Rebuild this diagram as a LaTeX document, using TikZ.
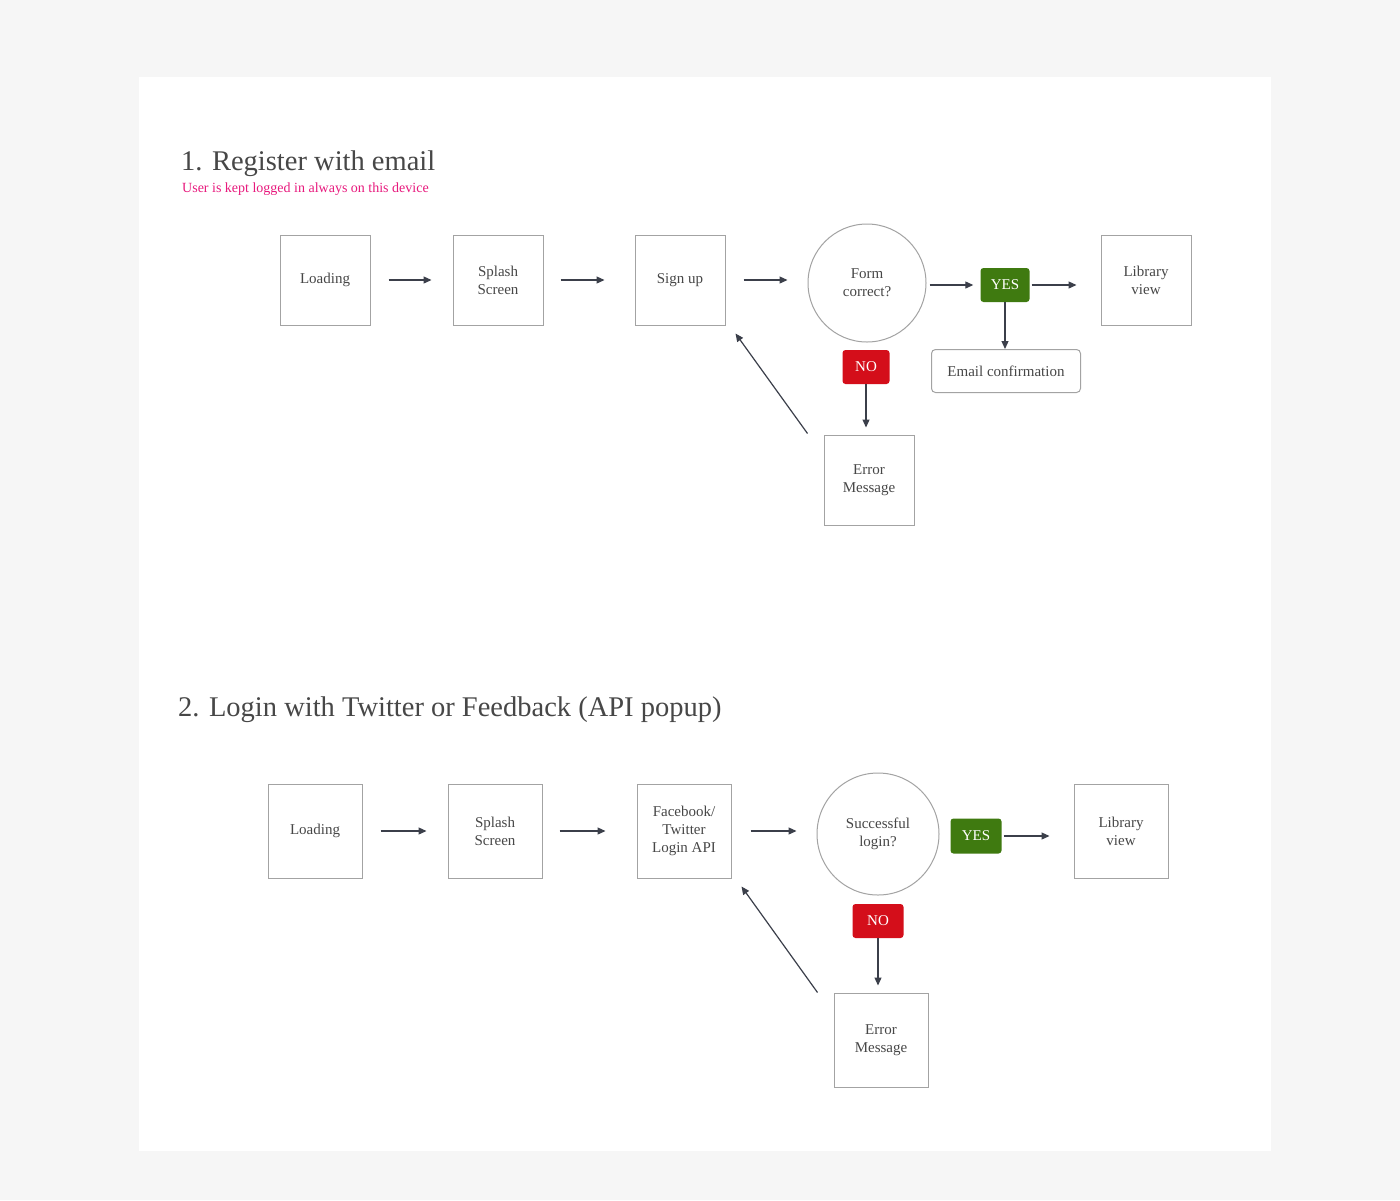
\documentclass[tikz,border=0pt]{standalone}
\usepackage{fontspec}
\setmainfont{Liberation Serif}
\usetikzlibrary{arrows.meta,positioning,shapes}
\definecolor{pagegray}{HTML}{F6F6F6}
\definecolor{boxgray}{HTML}{A3A3A3}
\definecolor{txtgray}{HTML}{474747}
\definecolor{arrowgray}{HTML}{3B3F4A}
\definecolor{yesgreen}{HTML}{3F7A10}
\definecolor{nored}{HTML}{D40E1A}
\definecolor{notepink}{HTML}{E8197D}

\begin{document}
\begin{tikzpicture}
    [
      x=1pt, y=-1pt,
      screen/.style={minimum size=90pt,inner sep=0pt,draw=boxgray,line width=1pt,fill=white,
        text=txtgray,align=center,font=\fontsize{15}{18}\selectfont},
      bigscreen/.style={screen,minimum size=94pt},
      decision/.style={circle,minimum size=118pt,inner sep=0pt,draw=boxgray,line width=1pt,
        text=txtgray,align=center,font=\fontsize{15}{18}\selectfont},
      tagyes/.style={minimum width=49pt,minimum height=34pt,inner sep=0pt,rounded corners=3pt,
        fill=yesgreen,text=white,font=\fontsize{15}{18}\selectfont},
      tagno/.style={tagyes,minimum width=47pt,fill=nored},
      mailbox/.style={minimum width=149pt,minimum height=43pt,inner sep=0pt,rounded corners=4pt,
        draw=boxgray,line width=1pt,text=txtgray,font=\fontsize{15}{18}\selectfont},
      heading/.style={anchor=base west,inner sep=0pt,text=txtgray,font=\fontsize{28.5}{32}\selectfont},
      post/.style={-{Triangle[length=8pt,width=7pt]},draw=arrowgray,line width=1.2pt}
    ]

    \useasboundingbox[fill=pagegray] (0,0) rectangle (1400,1200);
    \fill[white] (139,77) rectangle (1271,1151);

    % 1. register with email
    \node (title1) [heading] at (181,170) {1. Register with email};
    \node (note1) [anchor=base west,inner sep=0pt,text=notepink,font=\fontsize{14}{16}\selectfont]
      at (182,192) {User is kept logged in always on this device};

    \node (load1) [screen] at (325,280) {Loading};
    \node (splash1) [screen] at (498,280) {Splash\\Screen};
    \node (sign1) [screen] at (680,280) {Sign up};
    \node (form1) [decision] at (867,283) {Form\\correct?};
    \node (yes1) [tagyes] at (1005,285) {YES};
    \node (lib1) [screen] at (1146,280) {Library\\view};
    \node (mail1) [mailbox] at (1006,371) {Email confirmation};
    \node (no1) [tagno] at (866,367) {NO};
    \node (err1) [screen] at (869,480) {Error\\Message};

    \path
    (load1)   edge [post, shorten <=18pt, shorten >=21pt] (splash1)
    (splash1) edge [post, shorten <=17pt, shorten >=30pt] (sign1)
    (sign1)   edge [post, shorten <=18pt, shorten >=20pt] (sign1 -| form1.west)
    (form1.east |- yes1) edge [post, shorten <=3pt, shorten >=7pt] (yes1)
    (yes1)    edge [post, shorten <=2pt, shorten >=24pt] (yes1 -| lib1.west)
    (yes1)    edge [post] (yes1 |- mail1.north)
    (no1)     edge [post, shorten >=7pt] (no1 |- err1.north)
    ([xshift=-16pt,yshift=1pt]err1.north west) edge [post] ([xshift=10pt,yshift=-8pt]sign1.south east)
    ;

    % 2. login with twitter
    \node (title2) [heading] at (178,716) {2. Login with Twitter or Feedback (API popup)};

    \node (load2) [bigscreen] at (315,831) {Loading};
    \node (splash2) [bigscreen] at (495,831) {Splash\\Screen};
    \node (fb2) [bigscreen] at (684,831) {Facebook/\\Twitter\\Login API};
    \node (login2) [decision,minimum size=122pt] at (878,834) {Successful\\login?};
    \node (yes2) [tagyes,minimum width=51pt,minimum height=35pt] at (976,836) {YES};
    \node (lib2) [bigscreen] at (1121,831) {Library\\view};
    \node (no2) [tagno,minimum width=51pt] at (878,921) {NO};
    \node (err2) [bigscreen] at (881,1040) {Error\\Message};

    \path
    (load2)   edge [post, shorten <=18pt, shorten >=21pt] (splash2)
    (splash2) edge [post, shorten <=17pt, shorten >=31pt] (fb2)
    (fb2)     edge [post, shorten <=19pt, shorten >=20pt] (fb2 -| login2.west)
    (yes2)    edge [post, shorten <=2pt, shorten >=24pt] (yes2 -| lib2.west)
    (no2)     edge [post, shorten >=7pt] (err2.north -| no2)
    ([xshift=-16pt]err2.north west) edge [post] ([xshift=10pt,yshift=-8pt]fb2.south east)
    ;

\end{tikzpicture}
\end{document}
